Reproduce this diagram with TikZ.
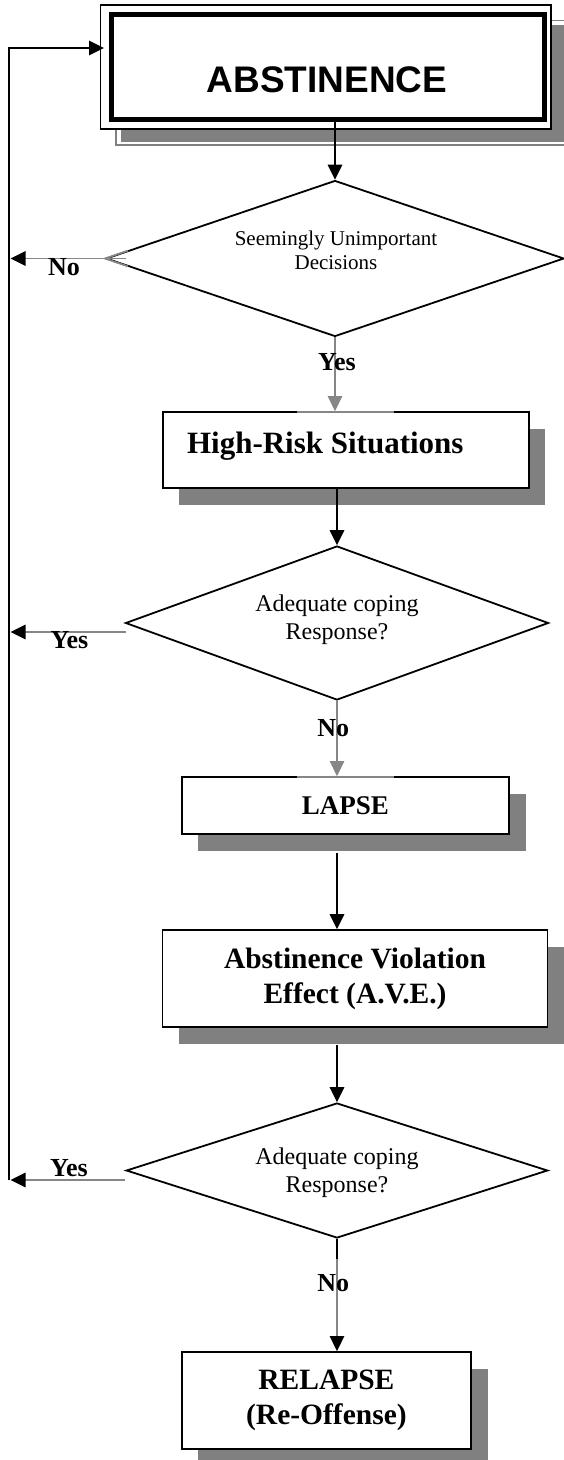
\documentclass[tikz,border=0pt]{standalone}
\usepackage{fontspec}
\setmainfont{Liberation Serif}
\newfontfamily\arialfont{Liberation Sans}
\usetikzlibrary{shapes.geometric,arrows.meta,shadows,calc}
\definecolor{shadowgray}{HTML}{808080}
\definecolor{linegray}{HTML}{868686}

\begin{document}
\begin{tikzpicture}[x=1pt,y=-1pt,
    box/.style={draw,line width=1.8pt,fill=white,rectangle,inner sep=0pt,
        drop shadow={shadow xshift=16.5pt,shadow yshift=-16.5pt,fill=shadowgray,opacity=1}},
    decision/.style={draw,diamond,line width=1.8pt,inner sep=0pt,shape aspect=3},
    lbl/.style={font=\fontsize{26}{30}\selectfont\bfseries,anchor=base},
    flow/.style={line width=1.5pt},
    greyline/.style={line width=1.2pt,draw=linegray},
    tipblack/.style={-{Triangle[length=15pt,width=14.5pt,color=black]}},
    tipgray/.style={-{Triangle[length=15pt,width=14.5pt]}},
]
\useasboundingbox (0,0) rectangle (564,1460);

% top box with its double frame and shadow
\draw[shadowgray,line width=1.2pt] (580,20.5) -- (116,20.5) -- (116,145) -- (580,145);
\fill[shadowgray] (120.5,24.5) rectangle (580,141.5);
\draw[line width=1.2pt,fill=white] (100.5,5) rectangle (551,129);
\node[draw,line width=5pt,minimum width=433pt,minimum height=104.7pt,inner sep=0pt] (abst) at (327.5,66.65) {};
\node[font=\arialfont\bfseries\fontsize{37}{44}\selectfont] (absttext) at (327,79.5) {ABSTINENCE};

% decisions
\node[decision,minimum width=458pt,minimum height=156pt] (d1) at (335,258.5) {};
\node[font=\fontsize{21}{24}\selectfont,align=center] (d1text) at (336,250) {Seemingly Unimportant\\Decisions};

\node[decision,minimum width=423pt,minimum height=154pt] (d2) at (337,623) {};
\node[font=\fontsize{24}{28}\selectfont,align=center] (d2text) at (337,619.4) {Adequate coping\\Response?};

\node[decision,minimum width=421.5pt,minimum height=135pt] (d3) at (337,1170.5) {};
\node[font=\fontsize{24}{28}\selectfont,align=center] (d3text) at (337,1172.4) {Adequate coping\\Response?};

% boxes
\node[box,minimum width=366pt,minimum height=76pt] (hrs) at (345.7,450) {};
\node[font=\fontsize{31}{36}\selectfont\bfseries,anchor=base west] (hrstext) at (183.5,453) {High-Risk Situations};

\node[box,minimum width=327.3pt,minimum height=57pt,font=\fontsize{27}{31}\selectfont\bfseries] (lapse) at (345.4,805.5) {LAPSE};

\node[box,align=center,minimum width=385pt,minimum height=97pt,font=\fontsize{29.5}{35}\selectfont\bfseries] (ave) at (355,978.5) {Abstinence Violation\\Effect (A.V.E.)};

\node[box,align=center,minimum width=289.3pt,minimum height=97pt,font=\fontsize{29.5}{34.5}\selectfont\bfseries] (relapse) at (326.4,1400.5) {RELAPSE\\(Re-Offense)};

% loop back to the top
\coordinate (looptop) at (9.3,48);
\coordinate (loopbot) at (9.3,1180);
\coordinate (loopx) at (10.5,0);
\draw[line width=1.8pt,tipblack,shorten >=4.5pt] (loopbot) -- (looptop) -- (abst.west |- looptop);

\coordinate (d1no) at ([shift={(21,0)}]d1.west);
\coordinate (d2yes) at ([shift={(1,9)}]d2.west);
\coordinate (d3yes) at ([shift={(0,9.5)}]d3.west);
\draw[greyline,tipblack] (d1no) -- (d1no -| loopx);
\draw[greyline,line width=1.8pt] ($(d1.west)!0.1!(d1.north)$) -- (d1.west) -- ($(d1.west)!0.1!(d1.south)$);
\draw[greyline,tipblack] (d2yes) -- (d2yes -| loopx);
\draw[greyline,tipblack] (d3yes) -- (d3yes -| loopx);

% down the middle
\draw[flow,tipblack] (d1.north |- abst.south) -- (d1.north);
\draw[greyline,tipgray] (d1.south) -- (d1.south |- hrs.north);
\draw[greyline,line width=1.8pt] (297,412) -- (394,412);
\draw[flow,tipblack] (d2.north |- hrs.south) -- (d2.north);
\draw[greyline,tipgray] (d2.south) -- (d2.south |- lapse.north);
\draw[greyline,line width=1.8pt] (297,777) -- (394,777);
\draw[flow,tipblack] (d2.south |- lapse.south) ++(0,18) -- (d2.south |- ave.north);
\draw[flow,tipblack] (d3.north |- ave.south) ++(0,17) -- (d3.north);
\draw[flow] (d3.south) -- ++(0,20);
\draw[greyline,tipblack] (d3.south) ++(0,20) -- (d3.south |- relapse.north);

% answers
\node[lbl] (no1) at (64,275) {No};
\node[lbl] (yes1) at (337,370) {Yes};
\node[lbl] (yes2) at (69.5,648) {Yes};
\node[lbl] (no2) at (333.3,736) {No};
\node[lbl] (yes3) at (69,1176.7) {Yes};
\node[lbl] (no3) at (333.3,1291.7) {No};
\end{tikzpicture}
\end{document}
